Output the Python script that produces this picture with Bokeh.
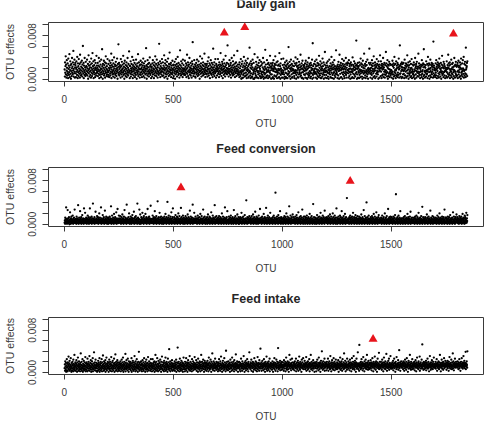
from bokeh.plotting import figure
from bokeh.layouts import column
from bokeh.models import FixedTicker, NumeralTickFormatter, Range1d
from bokeh.core.properties import value
from bokeh.embed import file_html
from bokeh.resources import INLINE


def parse(block):
    # effect estimates are stored as two-digit integers in units of 1e-4
    return [int(v) * 1e-4 for v in block.split()]


# OTU effects for daily gain, OTU 1, 2, 3, ...
DAILY_GAIN_EFFECTS = parse("""
18 05 31 12 24 42 09 27 03 16 35 21 07 14 29 11 02 38 19 25 08 13 46 22 04 17 33 10 26 01 15 28 06 20 39 12 23 09 31 16 52 05 19 27 11 36 14 03 22 30
26 11 04 19 33 14 22 08 41 17 02 29 13 24 06 37 20 10 15 28 03 45 18 12 31 07 23 16 09 34 21 05 27 14 61 19 11 30 02 25 16 08 39 13 22 06 18 32 10 24
09 23 15 36 07 20 13 28 01 17 44 11 25 19 05 32 14 22 08 27 16 03 38 21 12 29 06 18 48 10 24 15 33 02 20 13 26 09 35 17 04 22 30 11 19 07 43 16 25 12
21 14 30 06 18 25 10 39 15 02 23 33 08 17 12 27 20 04 36 13 19 09 55 24 16 01 28 11 21 14 34 07 26 18 10 31 03 22 15 42 12 29 06 19 24 09 17 37 13 05
13 28 08 21 16 04 34 19 25 11 07 30 14 22 47 02 18 26 12 35 09 15 23 05 29 17 10 40 20 13 03 27 24 08 16 32 11 19 06 25 14 38 21 01 17 28 12 64 09 23
30 07 19 14 26 11 22 03 37 16 24 09 13 32 18 05 27 20 12 43 15 08 23 29 01 17 34 10 21 14 06 26 19 11 31 04 24 16 09 39 13 21 07 28 18 12 51 15 25 02
16 24 10 33 05 20 13 28 17 09 41 22 14 02 26 19 35 07 15 23 11 30 18 04 21 12 27 08 36 16 20 01 24 13 29 10 17 46 06 22 14 31 19 09 25 03 18 27 12 34
08 19 27 13 22 04 31 16 10 25 18 38 06 14 29 21 12 03 24 17 33 09 20 15 57 11 26 01 19 23 07 35 14 28 10 16 22 05 30 13 18 40 11 24 08 27 15 02 21 17
23 12 05 29 16 35 09 20 14 26 02 18 31 11 24 07 42 15 21 13 28 06 19 36 10 17 25 03 22 14 30 12 08 27 65 16 20 11 33 04 18 24 13 29 09 21 15 37 06 19
14 31 20 07 25 12 18 44 03 22 16 29 10 35 19 05 26 13 21 09 32 17 01 24 15 38 11 20 06 28 14 23 49 08 18 27 12 16 30 04 21 11 25 17 09 34 13 19 02 26
27 06 17 22 11 32 14 01 26 19 09 37 15 23 12 28 05 20 16 41 13 24 08 30 18 10 21 03 27 15 53 11 19 25 07 33 14 22 09 17 29 12 04 36 20 15 26 10 18 08
11 20 34 15 08 23 17 29 12 04 19 26 45 10 21 14 31 06 24 16 02 27 13 39 18 09 22 15 30 07 20 12 25 03 17 33 11 28 68 14 19 06 23 16 10 35 21 13 27 05
19 03 24 12 30 17 09 21 36 14 26 06 18 11 23 33 08 16 27 13 01 20 42 15 24 10 29 17 05 22 12 38 19 14 26 07 31 11 18 24 09 15 47 20 13 28 04 17 22 10
25 16 09 28 14 21 05 33 18 11 24 40 07 19 15 29 12 02 26 20 13 35 10 17 23 08 30 16 21 04 27 12 56 18 09 22 14 31 06 25 17 11 37 13 20 03 28 15 19 24
07 22 15 18 37 10 26 13 20 04 31 16 23 09 27 14 48 11 19 25 06 21 17 32 12 28 02 18 24 14 36 08 20 15 29 11 23 05 17 43 13 26 10 21 16 30 09 19 62 14
20 12 28 05 17 24 11 35 14 19 08 26 15 30 03 22 13 39 18 10 25 16 07 33 21 12 27 09 44 15 18 23 04 29 13 20 11 31 16 06 24 19 14 52 10 27 17 08 22 13
12 27 04 31 09 20 15 06 24 37 13 01 10 28 17 02 33 14 22 03 08 25 16 41 11 18 29 05 23 06 20 34 12 07 26 17 02 30 21 09 15 38 18 24 03 05 12 27 16 58
29 14 07 21 02 33 11 25 19 04 28 05 22 36 09 17 01 12 30 15 01 20 46 18 03 10 14 23 07 32 19 04 27 16 03 21 40 13 25 09 02 30 15 22 11 35 06 19 24 05
15 02 32 10 26 13 04 08 29 22 14 39 05 19 01 12 31 17 09 23 03 54 11 20 27 03 18 06 13 35 15 07 22 28 02 17 30 14 21 06 26 04 12 43 16 23 09 29 01 20
23 09 17 26 02 30 04 20 15 35 18 01 24 07 21 28 14 42 05 19 26 13 06 31 17 02 15 09 33 12 25 19 03 27 16 04 48 11 18 24 01 29 08 20 15 37 12 03 17 10
10 26 03 13 38 16 22 09 27 01 20 05 31 18 12 25 04 02 23 34 11 19 27 02 08 29 21 15 59 10 24 05 13 32 06 20 26 01 18 36 15 22 09 28 03 19 04 25 16 11
18 33 12 24 06 02 15 29 11 17 40 13 26 01 08 30 16 23 12 37 04 19 25 03 21 09 32 17 13 27 10 22 05 45 18 07 24 12 29 02 20 03 34 19 13 26 01 17 23 09
26 15 21 08 29 03 19 34 16 11 23 02 27 18 01 31 09 20 24 12 04 39 07 22 28 15 10 25 02 13 30 05 21 17 26 11 36 01 19 66 08 24 16 03 12 28 15 19 10 33
13 20 27 03 11 24 36 09 18 01 14 30 06 25 17 12 28 04 43 10 21 15 07 26 33 02 18 11 23 02 29 16 20 05 38 09 24 17 12 31 01 15 08 27 19 50 13 03 16 25
21 08 16 30 02 14 25 12 33 05 22 18 01 11 17 36 13 24 09 20 04 29 16 03 23 41 12 19 26 02 08 31 18 22 11 27 01 13 35 20 07 24 17 04 10 19 53 15 21 12
09 24 18 02 27 20 07 32 15 23 01 19 45 16 26 10 22 03 30 17 04 25 19 12 37 21 01 28 09 18 24 13 34 06 20 02 27 11 23 18 14 39 08 29 03 21 12 26 17 31
17 29 11 03 15 35 19 06 24 13 28 01 20 09 31 14 25 18 02 27 13 04 40 15 19 10 26 23 02 33 17 08 22 29 05 18 11 25 20 71 13 27 01 09 24 19 30 03 21 15
24 12 02 31 08 18 26 15 04 38 11 17 29 14 23 05 27 01 13 34 16 21 10 25 03 47 12 20 15 28 07 24 02 13 32 17 11 26 05 14 36 09 19 01 16 21 12 30 18 56
14 27 19 10 03 30 16 21 12 26 08 35 01 24 15 19 29 11 04 42 14 17 25 06 20 31 02 27 16 22 10 24 05 37 12 28 15 20 09 26 01 33 14 23 19 03 27 16 44 21
20 06 33 14 25 02 21 28 07 18 24 09 39 19 04 27 22 14 30 09 03 17 26 13 08 50 16 29 11 24 05 13 35 21 01 27 06 19 25 10 32 12 04 18 28 14 07 10 26 17
16 03 12 27 09 34 14 24 01 09 29 21 05 26 41 13 07 17 28 11 02 16 33 19 06 25 08 21 30 04 12 27 22 08 38 18 03 24 20 62 10 26 11 05 28 15 23 02 31 18
22 04 28 17 09 15 30 10 21 02 16 36 19 07 25 20 14 29 03 23 05 27 16 44 11 06 25 18 31 01 22 11 26 08 14 33 17 04 20 12 28 06 21 37 13 02 18 15 27 09
11 25 04 31 14 07 18 27 01 39 16 21 09 24 28 03 15 32 20 12 06 19 23 14 47 05 11 29 21 08 25 13 02 19 22 15 27 08 24 04 35 14 10 26 17 01 29 22 06 55
27 08 14 23 03 16 21 12 26 05 33 15 09 17 10 28 02 14 41 18 25 06 20 29 13 01 27 19 07 36 15 21 04 26 12 30 09 24 14 18 28 03 22 69 11 06 25 17 21 08
19 04 16 29 12 07 35 18 23 02 27 20 15 31 06 25 11 22 03 28 38 09 24 13 20 05 18 30 15 01 12 27 21 43 08 14 25 10 22 04 32 20 13 28 07 24 15 02 21 17
15 21 06 18 33 13 03 19 26 10 22 45 05 29 20 08 25 12 31 02 18 27 16 07 14 36 19 04 11 28 22 09 30 18 01 13 23 06 17 39 16 25 03 14 27 11 32 08 24 05
23 07 26 14 30 02 25 16 34 09 22 13 04 24 18 31 06 21 27 01 38 12 19 08 14 29 05 16 35 20 10 18 41 03 15 28 07 17 32 11 26 04 58 18 09 21 24 30 06 33
""")

# OTU effects for feed conversion
FEED_CONVERSION_EFFECTS = parse("""
03 07 01 12 05 09 02 31 06 04 10 01 08 03 26 05 11 02 07 04 13 06 00 09 03 22 05 08 01 11 06 14 02 04 09 07 03 16 05 01 10 06 02 12 08 04 27 03 06 09
05 02 10 06 01 14 04 08 03 11 07 02 35 05 09 01 06 12 03 08 04 24 07 02 10 05 13 01 06 03 09 17 04 07 02 11 05 08 01 29 06 03 10 04 21 07 02 09 05 12
08 04 01 11 06 03 16 09 02 07 05 13 01 10 04 08 29 06 03 12 05 02 09 07 14 01 04 11 06 03 38 08 05 02 10 07 04 13 01 06 09 03 23 05 08 02 11 06 04 15
02 09 05 13 07 01 10 04 06 20 03 08 12 05 02 09 06 31 04 01 11 07 03 08 05 17 02 10 06 04 13 09 01 07 05 25 03 08 11 06 02 14 04 09 07 01 12 05 03 10
06 01 12 04 09 03 07 14 05 02 11 08 04 33 06 01 10 03 16 07 05 09 02 12 04 08 01 19 06 03 10 05 13 07 02 09 04 22 06 01 11 08 03 28 05 07 02 10 04 16
04 11 03 08 06 15 02 10 05 01 07 13 04 09 03 18 06 02 11 05 08 01 14 07 04 26 03 09 06 12 02 08 05 10 01 36 07 03 11 04 06 09 02 13 05 08 20 03 07 01
10 05 02 14 07 04 09 01 12 06 03 17 08 05 11 02 07 04 23 06 01 10 05 13 03 08 02 15 06 09 04 11 07 01 38 05 03 12 08 02 10 06 04 27 01 09 05 18 03 07
01 08 13 05 03 10 06 21 04 09 02 12 07 01 15 05 08 03 11 06 04 19 02 09 07 13 05 01 10 04 08 28 03 06 12 02 09 05 14 07 01 11 04 08 06 34 03 10 02 05
07 03 09 02 16 05 11 04 08 01 13 06 03 10 24 07 02 12 05 09 04 15 01 08 06 11 03 42 07 02 10 05 13 04 09 01 21 06 03 12 08 05 02 14 07 04 10 01 09 06
05 12 04 07 01 10 06 03 14 08 02 11 05 19 04 09 07 01 13 06 03 10 41 05 08 02 12 04 16 07 01 09 06 03 11 05 14 02 08 04 22 07 01 10 06 13 03 29 05 02
09 02 06 13 04 10 01 08 05 17 03 11 07 02 09 06 14 04 01 12 08 05 20 03 10 06 02 15 07 04 09 01 11 05 30 08 03 13 06 02 10 04 07 16 01 09 05 12 03 08
04 08 01 11 06 15 03 09 05 02 12 07 04 10 01 18 06 03 08 13 05 02 11 07 04 25 09 01 06 14 03 10 05 08 02 12 06 04 36 01 09 07 03 11 05 21 02 08 06 10
06 14 03 09 02 07 11 05 01 10 04 16 08 03 12 06 02 09 05 13 01 07 04 19 08 03 11 06 02 15 05 09 04 01 10 07 27 03 12 06 02 08 05 14 04 09 01 11 07 03
02 10 07 04 13 01 08 05 18 03 11 06 02 09 04 14 07 01 12 05 03 10 06 22 02 08 04 11 07 01 16 05 09 03 12 06 02 10 04 35 08 01 13 05 03 09 07 15 02 06
11 05 02 08 06 12 04 01 09 15 03 07 05 10 02 13 06 04 08 01 11 05 20 03 09 07 02 14 06 04 10 01 08 05 12 03 31 06 02 09 04 11 07 01 13 05 03 24 08 06
03 09 06 01 14 05 10 02 07 04 12 08 03 16 05 01 09 06 11 04 02 13 07 05 10 01 08 26 03 06 12 04 09 02 15 05 07 01 11 06 03 10 04 18 08 02 09 05 13 01
08 01 11 04 07 03 13 06 02 10 05 09 21 04 01 12 07 03 08 05 14 02 10 06 04 09 01 17 05 08 03 11 06 02 44 07 04 10 01 13 05 03 09 06 12 02 08 04 15 07
05 10 03 07 12 01 09 06 04 15 08 02 11 05 03 18 07 01 10 04 13 06 02 09 05 23 03 08 11 01 06 14 04 09 02 12 07 05 01 10 03 16 06 08 02 11 04 28 05 09
07 03 12 05 01 09 06 14 02 08 04 11 07 03 19 05 10 01 06 13 04 08 02 11 05 30 07 03 09 01 12 06 04 16 02 08 05 10 03 13 07 01 09 04 21 06 02 11 05 08
02 11 06 04 09 01 13 05 08 03 16 07 02 10 05 12 04 01 58 06 09 03 11 07 02 14 05 08 04 10 01 17 06 03 12 05 09 02 07 24 04 11 06 01 13 08 03 10 05 02
10 04 08 01 12 06 03 09 05 15 02 11 07 04 13 01 08 06 20 03 10 05 02 14 07 04 09 01 12 06 03 33 05 08 02 11 04 16 07 01 10 06 03 13 05 09 02 18 04 07
06 13 02 09 05 11 03 07 01 14 06 04 10 08 02 17 05 12 03 07 01 09 06 22 04 11 02 08 05 13 07 03 10 01 15 06 04 09 02 12 05 27 03 08 06 01 11 04 14 07
04 08 05 14 01 10 07 03 12 06 02 09 16 04 08 01 11 05 03 13 07 02 10 06 04 19 01 08 05 12 03 09 06 02 15 04 11 07 01 10 05 37 03 08 02 13 06 04 09 01
09 02 12 06 03 10 05 01 08 17 04 11 06 02 09 13 05 03 07 01 14 08 04 10 02 21 06 05 12 03 08 01 11 07 04 16 02 09 05 13 06 03 10 01 25 07 04 12 05 08
03 07 10 04 13 02 08 06 01 11 05 15 03 09 07 02 12 04 18 06 01 10 08 03 14 05 02 09 06 11 04 20 07 01 13 05 03 08 10 02 16 06 04 12 09 01 07 05 29 03
12 05 01 08 04 10 06 14 02 09 07 03 11 05 16 01 08 04 13 06 02 10 24 05 07 03 12 01 09 06 04 15 08 02 11 05 03 19 07 01 10 04 13 06 08 02 48 05 09 03
06 02 11 07 04 09 01 13 05 03 10 16 06 02 08 12 04 01 09 05 14 07 03 11 21 02 08 06 04 13 01 10 05 07 03 17 09 02 12 06 04 10 01 08 15 05 03 11 07 02
08 04 14 01 10 06 03 12 07 02 09 05 18 04 11 01 08 06 13 03 10 05 02 26 07 04 09 01 15 06 03 11 08 02 12 05 40 04 09 07 01 13 06 03 10 05 16 02 08 04
01 10 05 08 03 13 06 02 11 07 04 15 09 01 06 12 03 10 05 19 02 08 07 04 14 01 11 06 03 09 05 22 02 12 07 04 10 01 08 06 13 03 17 05 09 02 11 04 07 06
05 09 03 12 07 01 10 04 16 06 02 08 11 05 03 13 09 01 07 04 20 06 02 10 05 12 03 08 01 15 07 04 09 06 02 28 05 11 03 08 01 13 06 04 10 02 14 07 05 09
13 06 02 09 04 11 01 08 05 14 03 10 07 02 12 06 04 17 01 09 05 55 03 11 07 02 08 06 13 04 01 10 05 16 03 09 07 02 12 04 06 24 01 10 05 08 03 11 06 02
04 11 07 01 10 05 03 13 08 02 09 06 15 04 01 11 07 03 08 05 12 02 10 06 19 04 09 01 13 07 03 10 05 08 02 14 06 04 23 01 09 05 11 07 03 12 02 08 06 04
07 02 09 05 12 04 10 01 06 14 08 03 11 05 02 16 07 04 09 01 13 06 03 10 05 21 02 08 11 04 07 01 12 06 03 09 05 15 02 10 07 04 32 01 08 06 13 03 09 05
10 06 03 08 01 13 05 11 04 07 02 09 06 18 03 12 05 01 10 07 04 14 02 08 06 11 03 09 05 25 01 07 04 12 06 02 10 08 03 15 05 01 09 06 13 04 02 11 07 03
02 08 05 12 06 03 09 01 11 07 04 16 02 10 05 08 13 03 06 01 09 20 04 11 07 02 12 05 08 03 10 06 01 14 04 09 02 11 07 05 13 03 08 01 27 06 04 10 02 12
06 12 04 09 02 11 07 01 08 14 05 03 10 06 02 13 04 09 01 07 17 05 03 11 08 02 10 06 04 12 01 09 05 22 03 08 06 14 02 10 04 07 01 11 05 13 03 09 06 18
09 04 07 13 02 10 05 03 11 06 01 08 15 04 09 02 12 07 05 10 03 14 06 01 08 11 04 19 02 09 07 03 12 05 10 01 06 16 04 13 08 02 10 05 21 07 03 11 06 17
""")

# OTU effects for feed intake
FEED_INTAKE_EFFECTS = parse("""
08 15 03 21 11 06 18 01 13 09 25 04 16 10 02 19 12 07 30 14 05 17 09 22 03 11 14 06 27 08 12 01 18 10 04 15 20 07 13 02 24 09 16 05 11 33 08 14 03 19
12 04 17 09 23 06 14 01 11 19 07 28 13 03 16 10 21 05 12 08 15 02 18 11 36 06 14 09 20 03 13 07 25 10 01 16 12 05 22 08 14 04 19 11 06 29 13 02 17 09
05 19 10 14 02 26 08 16 12 04 20 11 07 15 31 03 13 09 18 06 23 12 01 16 10 05 21 14 08 27 02 12 17 06 11 38 09 15 04 19 13 07 24 10 03 14 18 08 12 01
16 07 12 03 22 14 09 18 05 11 27 01 15 08 13 20 04 17 10 06 25 12 02 19 09 14 32 07 11 16 03 21 13 05 10 18 08 23 01 15 12 06 28 11 04 17 09 14 20 07
10 13 01 18 08 24 05 15 11 20 03 12 16 07 29 09 14 02 19 11 06 22 13 10 04 17 08 26 15 01 12 18 07 34 09 14 03 20 11 05 16 13 23 08 02 19 10 15 06 12
03 18 11 07 15 09 21 13 02 17 06 12 24 10 14 04 19 08 28 11 01 16 13 05 20 09 15 07 12 35 02 18 10 06 23 14 08 11 17 04 26 12 09 15 01 21 06 13 10 18
14 06 20 12 04 16 09 27 01 13 18 07 11 22 05 15 10 03 19 14 08 31 12 06 17 02 21 11 09 15 04 25 13 07 18 10 01 14 20 08 12 39 05 16 11 03 19 09 14 07
09 21 05 14 17 02 12 08 23 15 06 11 19 03 13 27 10 07 16 12 01 20 09 14 05 24 11 17 08 13 02 18 06 29 15 10 04 12 21 09 16 07 13 03 18 11 25 06 14 10
17 02 13 10 25 07 16 11 04 19 14 08 21 01 12 06 18 33 09 15 03 20 13 07 11 27 05 16 10 02 14 22 08 12 17 04 19 11 06 24 13 09 15 01 20 10 07 30 12 05
07 14 19 04 11 16 02 22 09 13 06 18 10 28 03 15 12 08 20 05 17 11 01 14 26 09 13 06 19 10 44 04 16 12 07 21 02 15 11 08 18 13 05 23 10 14 03 17 09 12
11 05 16 13 08 21 03 12 18 07 14 10 24 01 15 09 19 06 12 47 04 17 11 08 20 13 02 16 10 26 06 14 09 18 03 12 22 07 15 11 05 19 13 01 17 09 28 12 06 14
15 09 02 20 12 06 17 11 27 04 14 08 19 13 01 16 10 23 07 12 18 05 15 09 31 11 03 14 20 08 13 06 17 10 02 25 12 16 07 11 21 04 14 09 18 12 06 29 10 15
06 17 12 09 23 14 03 11 19 07 15 10 01 26 13 08 18 12 05 16 21 09 14 02 12 19 07 33 11 15 04 20 10 13 08 17 24 06 12 14 01 18 09 22 11 05 16 13 08 19
12 03 18 10 15 06 22 13 09 17 02 14 28 08 11 19 05 12 16 07 24 10 13 01 20 15 09 12 36 06 17 11 04 14 21 08 13 10 18 03 15 26 07 12 16 09 11 20 05 13
18 10 07 14 02 19 12 16 05 25 11 08 13 17 03 21 09 14 30 06 12 15 10 01 18 13 07 22 11 16 04 14 09 27 12 06 19 10 15 02 13 41 08 17 11 05 20 12 14 09
04 13 21 08 16 11 06 18 12 01 15 24 09 13 07 19 10 03 14 28 12 17 05 11 20 08 15 13 02 23 10 16 06 12 18 09 34 14 04 11 17 07 21 13 10 15 01 19 12 08
13 20 09 15 05 12 18 02 14 11 26 07 16 10 13 03 21 12 08 17 15 06 31 11 14 09 01 19 13 07 16 22 10 04 12 18 08 15 25 11 06 13 17 02 20 14 09 12 38 10
09 14 16 06 19 10 13 24 03 12 17 08 15 11 20 01 14 09 18 05 13 27 11 16 07 12 10 21 04 15 19 08 13 02 17 11 29 06 14 12 09 18 15 03 23 10 16 07 12 45
16 08 12 19 03 15 11 07 22 13 09 17 04 14 10 25 12 06 18 15 01 13 20 09 11 16 06 30 12 14 03 19 10 08 17 13 05 21 11 15 09 26 02 14 12 18 07 13 10 16
11 17 05 13 21 09 14 01 16 12 08 19 13 27 06 15 10 18 03 12 16 11 24 07 14 09 20 13 02 17 46 10 12 06 19 14 08 15 11 22 04 13 16 09 18 12 05 20 14 10
14 06 19 12 09 15 03 23 13 11 17 07 14 20 02 16 12 28 08 13 18 05 15 10 21 12 06 14 17 01 19 11 33 09 15 13 07 24 12 16 04 18 10 14 26 08 13 11 19 06
07 16 13 10 18 04 14 21 11 15 08 12 26 02 17 13 09 19 06 14 11 22 15 03 12 18 10 30 07 16 13 05 20 11 14 09 17 01 15 24 12 08 19 13 10 27 06 14 16 11
13 10 22 15 06 18 12 08 14 29 03 16 11 19 09 13 05 21 15 12 07 17 10 25 14 02 18 12 09 16 33 11 06 14 20 13 08 17 04 15 12 23 10 18 07 13 16 01 19 12
10 18 08 13 16 02 20 14 11 07 24 12 15 09 18 04 13 28 11 16 06 14 19 10 01 17 12 22 08 15 13 40 09 18 11 05 14 21 12 16 07 13 10 26 03 19 15 09 12 17
15 04 17 11 20 13 07 15 10 26 12 03 18 14 09 21 11 16 06 13 31 08 17 12 02 19 14 10 23 07 15 11 18 05 13 27 09 16 12 20 04 14 11 17 08 24 13 06 15 10
12 19 06 14 17 09 23 11 01 16 13 08 20 15 10 28 05 12 18 14 07 21 11 16 03 13 25 09 15 12 19 06 14 36 10 17 08 13 22 11 02 16 14 09 19 12 05 26 13 15
09 14 12 21 07 16 11 18 04 13 24 10 15 08 19 12 02 17 14 27 09 13 16 06 20 11 15 31 08 12 18 05 14 22 10 16 13 01 19 11 26 07 14 17 09 12 38 15 06 13
17 11 03 52 15 12 09 18 13 06 20 14 10 25 08 16 12 19 04 14 11 29 07 17 13 15 02 21 10 16 12 08 24 14 18 06 13 11 33 09 16 19 12 05 15 22 10 14 08 18
06 15 18 10 13 23 08 16 12 04 19 14 11 27 09 15 17 02 13 20 10 16 07 14 30 11 18 12 05 15 21 09 13 16 01 19 11 26 14 08 12 17 10 37 06 15 13 20 11 09
13 08 20 14 11 17 05 12 24 16 09 13 19 02 15 10 28 12 07 18 14 11 21 06 16 13 09 35 12 15 03 19 11 17 08 14 22 10 13 26 05 16 12 18 09 14 31 11 07 15
10 16 12 07 19 13 15 09 22 04 14 17 11 26 08 13 18 12 01 16 20 10 14 06 29 12 15 09 17 11 13 23 05 18 14 10 42 08 15 12 19 03 13 16 11 21 09 14 12 17
15 09 13 18 06 21 11 14 16 03 19 12 08 24 13 17 10 15 05 20 12 27 09 14 11 16 01 18 13 22 07 15 10 12 19 33 08 14 16 11 05 20 13 09 17 12 25 06 14 10
12 18 07 15 11 20 14 04 17 13 09 23 12 16 02 19 10 14 28 08 15 13 11 18 06 21 12 16 09 14 30 03 17 11 13 19 07 15 12 24 10 14 53 08 16 11 18 05 13 20
14 06 17 12 10 19 15 08 13 22 04 16 11 18 09 14 26 12 07 15 20 10 13 02 17 14 11 31 09 16 12 05 19 13 15 08 23 11 14 17 06 12 20 10 15 28 09 13 16 11
09 15 12 20 07 14 17 11 25 13 03 16 10 18 14 08 21 12 15 06 19 13 11 33 09 16 14 02 18 12 10 24 15 07 13 19 11 16 05 20 14 12 27 08 17 13 10 15 22 12
16 11 19 05 14 13 18 10 22 08 15 12 17 03 20 14 11 29 09 16 13 07 18 12 15 24 10 14 06 19 13 11 36 08 16 21 12 04 15 18 10 13 26 09 17 14 11 20 12 15
12 17 09 14 21 10 16 13 06 19 15 11 25 08 14 18 12 03 17 13 20 10 15 27 09 16 12 14 07 19 13 31 11 16 10 22 14 08 18 12 15 39 06 13 17 11 21 14 09 40
""")

# Highlighted OTUs (largest effects) per trait
DAILY_GAIN_TOP_OTU = [734, 828, 1786]
DAILY_GAIN_TOP_EFFECT = [0.0085, 0.0095, 0.0083]
FEED_CONVERSION_TOP_OTU = [535, 1312]
FEED_CONVERSION_TOP_EFFECT = [0.0067, 0.0079]
FEED_INTAKE_TOP_OTU = [1417]
FEED_INTAKE_TOP_EFFECT = [0.0063]

X_TICKS = [0, 500, 1000, 1500]
Y_LABELLED_TICKS = [0.0, 0.008]
Y_UNLABELLED_TICKS = [0.002, 0.004, 0.006, 0.010]

X_RANGE = (-73, 1924)
Y_RANGE = (-0.0004, 0.0104)

FONT = "Liberation Sans"
INK = "#3a3a3a"
TITLE_INK = "#262626"
FRAME_H = 59
BORDER_L, BORDER_R = 48, 9
TITLE_BASELINE = 16.5  # pixels above the bottom of each title strip


def title_strip(text, height):
    # a thin, axis-free strip that carries a panel title centred over the box below
    t = figure(width=492, height=height, output_backend="svg", toolbar_location=None,
               tools="", x_range=Range1d(*X_RANGE), y_range=Range1d(0, height),
               min_border_left=BORDER_L, min_border_right=BORDER_R,
               min_border_top=0, min_border_bottom=0,
               x_axis_location=None, y_axis_location=None)
    t.grid.visible = False
    t.outline_line_color = None
    t.background_fill_color = "white"
    t.border_fill_color = "white"
    t.text(x=[(X_RANGE[0] + X_RANGE[1]) / 2], y=[TITLE_BASELINE], text=[text],
           text_align="center", text_baseline="alphabetic",
           text_font=value(FONT), text_font_style="bold",
           text_font_size="12.5px", text_color=TITLE_INK)
    return t


def panel(effects, top_otu, top_effect, border_bottom):
    p = figure(width=492, height=2 + FRAME_H + border_bottom,
               output_backend="svg", toolbar_location=None, tools="",
               x_range=Range1d(*X_RANGE), y_range=Range1d(*Y_RANGE),
               min_border_left=BORDER_L, min_border_right=BORDER_R, min_border_top=2,
               min_border_bottom=border_bottom)
    p.grid.visible = False
    p.background_fill_color = "white"
    p.border_fill_color = "white"
    p.outline_line_color = INK
    p.outline_line_width = 1
    p.outline_line_alpha = 1

    xa = p.xaxis[0]
    xa.ticker = FixedTicker(ticks=X_TICKS)
    xa.axis_line_color = None
    xa.major_tick_in = 0
    xa.major_tick_out = 5
    xa.major_tick_line_color = INK
    xa.minor_tick_line_color = None
    xa.major_label_standoff = 8
    xa.major_label_text_font = FONT
    xa.major_label_text_font_size = "10px"
    xa.major_label_text_color = INK
    xa.axis_label = "OTU"
    xa.axis_label_standoff = 12
    xa.axis_label_text_font = FONT
    xa.axis_label_text_font_size = "10px"
    xa.axis_label_text_font_style = "normal"
    xa.axis_label_text_color = INK

    ya = p.yaxis[0]
    ya.ticker = FixedTicker(ticks=Y_LABELLED_TICKS, minor_ticks=Y_UNLABELLED_TICKS)
    ya.formatter = NumeralTickFormatter(format="0.000")
    ya.axis_line_color = None
    ya.major_tick_in = 0
    ya.major_tick_out = 6
    ya.major_tick_line_color = INK
    ya.minor_tick_in = 0
    ya.minor_tick_out = 6
    ya.minor_tick_line_color = INK
    ya.major_label_orientation = "vertical"
    ya.major_label_standoff = 6
    ya.major_label_text_font = FONT
    ya.major_label_text_font_size = "10px"
    ya.major_label_text_color = INK
    ya.axis_label = "OTU effects"
    ya.axis_label_standoff = 10
    ya.axis_label_text_font = FONT
    ya.axis_label_text_font_size = "10.5px"
    ya.axis_label_text_font_style = "normal"
    ya.axis_label_text_color = INK

    otu = list(range(1, len(effects) + 1))
    p.scatter(otu, effects, marker="circle", size=2.3, fill_color="black",
              line_color=None)
    p.scatter(top_otu, top_effect, marker="triangle", size=9,
              fill_color="#e8141c", line_color=None)
    return p


# the first title runs off the top edge of the page
t1 = title_strip("Daily gain", 20)
p1 = panel(DAILY_GAIN_EFFECTS, DAILY_GAIN_TOP_OTU, DAILY_GAIN_TOP_EFFECT, 53)
t2 = title_strip("Feed conversion", 31)
p2 = panel(FEED_CONVERSION_EFFECTS, FEED_CONVERSION_TOP_OTU,
           FEED_CONVERSION_TOP_EFFECT, 58)
t3 = title_strip("Feed intake", 31)
p3 = panel(FEED_INTAKE_EFFECTS, FEED_INTAKE_TOP_OTU, FEED_INTAKE_TOP_EFFECT, 48)

layout = column(t1, p1, t2, p2, t3, p3, spacing=0)

with open("out.html", "w") as f:
    f.write(file_html(layout, INLINE))
